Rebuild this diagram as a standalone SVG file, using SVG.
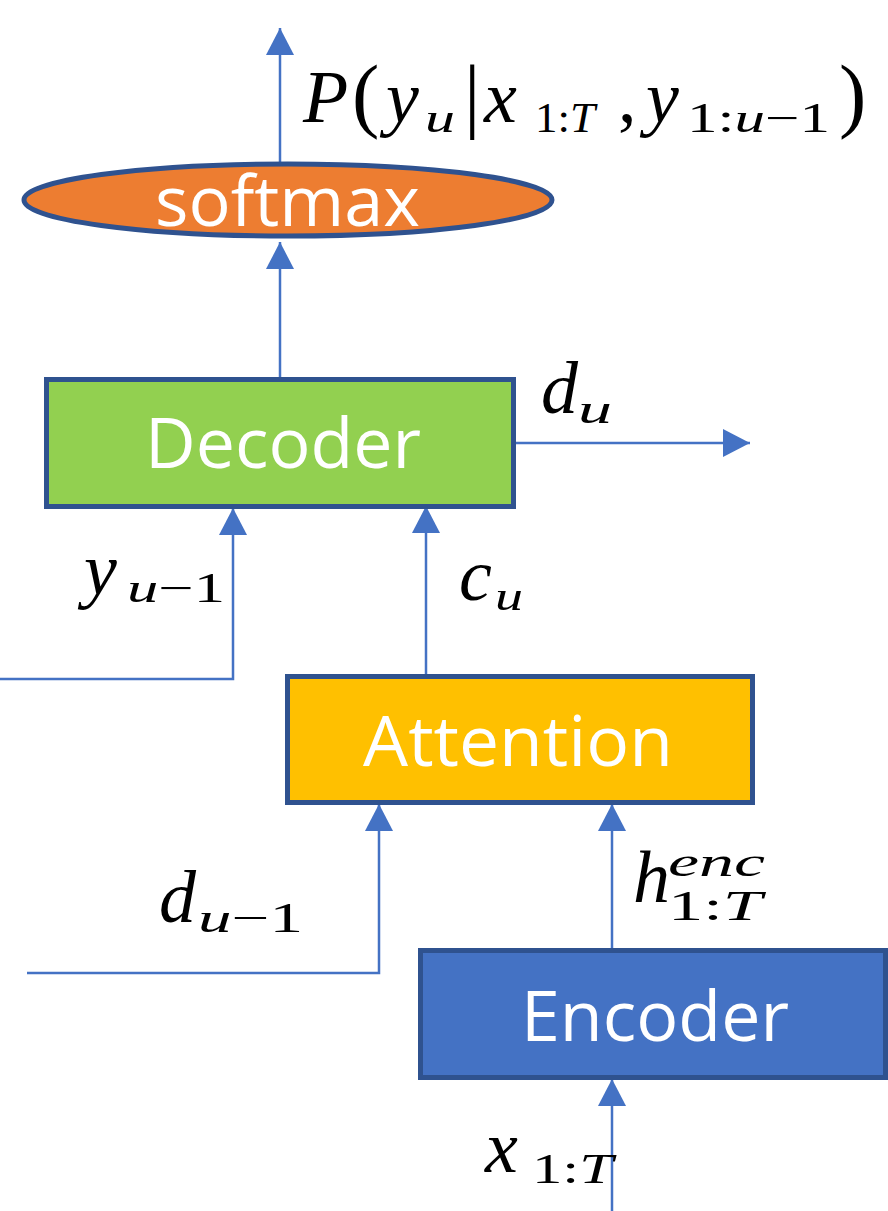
<svg xmlns="http://www.w3.org/2000/svg" width="888" height="1211" viewBox="0 0 888 1211">
<style>
.box{stroke:#2F528F;stroke-width:5}
.lbl{font-family:"Open Sans","Noto Sans",sans-serif;fill:#fff;font-size:70px}
.ln{fill:none;stroke:#4472C4;stroke-width:2.5}
.m{font-family:"Liberation Serif","DejaVu Serif",serif;fill:#000;font-size:74px}
.p{font-family:"Liberation Serif","DejaVu Serif",serif;fill:#000;font-size:82px}
.s{font-family:"Liberation Serif","DejaVu Serif",serif;fill:#000;font-size:42px}
.i{font-style:italic}
</style>
<defs>
<marker id="ah" markerUnits="userSpaceOnUse" markerWidth="28" markerHeight="28" viewBox="0 0 28 28" refX="27" refY="14" orient="auto">
<path d="M0,0 L27,14 L0,28 Z" fill="#4472C4"/>
</marker>
</defs>
<rect width="888" height="1211" fill="#fff"/>
<g id="connectors">
<line class="ln" x1="280" y1="166" x2="280" y2="28" marker-end="url(#ah)"/>
<line class="ln" x1="280" y1="379" x2="280" y2="242" marker-end="url(#ah)"/>
<line class="ln" x1="514" y1="443" x2="750" y2="443" marker-end="url(#ah)"/>
<polyline class="ln" points="0,679 233,679 233,508" marker-end="url(#ah)"/>
<line class="ln" x1="426" y1="675" x2="426" y2="506" marker-end="url(#ah)"/>
<polyline class="ln" points="27,973 379,973 379,804" marker-end="url(#ah)"/>
<line class="ln" x1="612" y1="948" x2="612" y2="804" marker-end="url(#ah)"/>
<line class="ln" x1="612" y1="1211" x2="612" y2="1079" marker-end="url(#ah)"/>
</g>
<g id="softmax">
<ellipse cx="288" cy="200" rx="264" ry="36" fill="#ED7D31" class="box"/>
<text class="lbl" x="155" y="226" font-size="60" textLength="265" lengthAdjust="spacingAndGlyphs">softmax</text>
</g>
<g id="decoder">
<rect x="46.5" y="379.5" width="467" height="127" fill="#92D050" class="box"/>
<text class="lbl" x="145" y="468" textLength="276" lengthAdjust="spacingAndGlyphs">Decoder</text>
</g>
<g id="attention">
<rect x="287.5" y="676.5" width="465" height="126" fill="#FFC000" class="box"/>
<text class="lbl" x="363" y="766" textLength="310" lengthAdjust="spacingAndGlyphs">Attention</text>
</g>
<g id="encoder">
<rect x="420.5" y="950.5" width="465" height="127" fill="#4472C4" class="box"/>
<text class="lbl" x="521" y="1041" textLength="268" lengthAdjust="spacingAndGlyphs">Encoder</text>
</g>
<g id="label-output">
<text class="m i" x="303" y="122">P</text>
<text class="p" x="352" y="122">(</text>
<text class="m i" x="386" y="122">y</text>
<text class="s i" x="425" y="132" textLength="30" lengthAdjust="spacingAndGlyphs">u</text>
<text class="p" x="464" y="122">|</text>
<text class="m i" x="484" y="122">x</text>
<text class="s" x="535" y="132" textLength="60" lengthAdjust="spacingAndGlyphs">1:<tspan class="i">T</tspan></text>
<text class="m" x="618" y="122">,</text>
<text class="m i" x="646" y="122">y</text>
<text class="s" x="687" y="132" textLength="143" lengthAdjust="spacingAndGlyphs">1:<tspan class="i">u</tspan>−1</text>
<text class="p" x="839" y="122">)</text>
</g>
<g id="label-du">
<text class="m i" x="541" y="413">d</text>
<text class="s i" x="578" y="423" textLength="34" lengthAdjust="spacingAndGlyphs">u</text>
</g>
<g id="label-yu1">
<text class="m i" x="84" y="594">y</text>
<text class="s" x="127" y="602" textLength="98" lengthAdjust="spacingAndGlyphs"><tspan class="i">u</tspan>−1</text>
</g>
<g id="label-cu">
<text class="m i" x="459" y="600">c</text>
<text class="s i" x="495" y="610" textLength="28" lengthAdjust="spacingAndGlyphs">u</text>
</g>
<g id="label-du1">
<text class="m i" x="159" y="922">d</text>
<text class="s" x="198" y="932" textLength="105" lengthAdjust="spacingAndGlyphs"><tspan class="i">u</tspan>−1</text>
</g>
<g id="label-henc">
<text class="m i" x="633" y="902">h</text>
<text class="s i" x="668" y="876" textLength="97" lengthAdjust="spacingAndGlyphs">enc</text>
<text class="s" x="668" y="920" textLength="94" lengthAdjust="spacingAndGlyphs">1:<tspan class="i">T</tspan></text>
</g>
<g id="label-x">
<text class="m i" x="485" y="1172">x</text>
<text class="s" x="532" y="1183" textLength="81" lengthAdjust="spacingAndGlyphs">1:<tspan class="i">T</tspan></text>
</g>
</svg>
